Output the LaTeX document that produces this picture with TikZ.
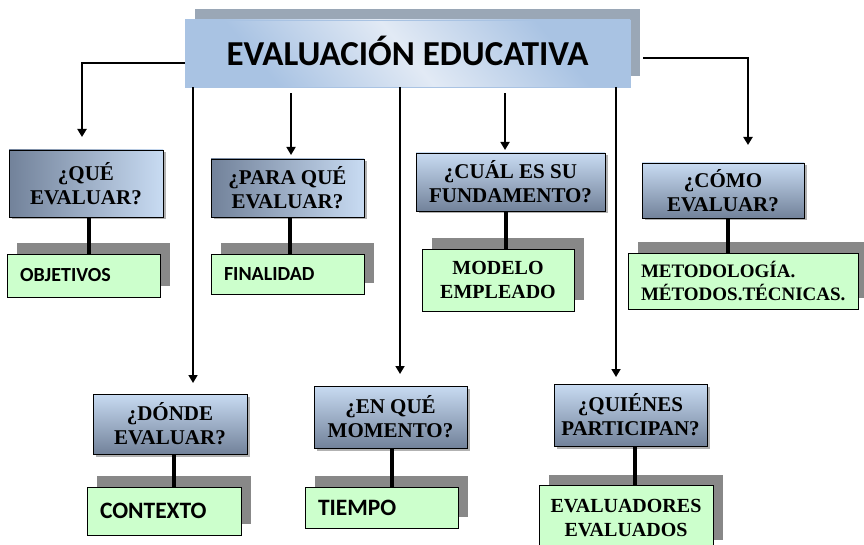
\documentclass[tikz,border=0pt]{standalone}
\usepackage{fontspec}
\setmainfont{Liberation Serif}
\newfontfamily\calfont{Carlito}
\usetikzlibrary{shadows,arrows.meta}
\definecolor{qlight}{HTML}{C8DBF2}
\definecolor{qdark}{HTML}{72829A}
\definecolor{tblue}{HTML}{A9C3E3}
\definecolor{tlight}{HTML}{E2EAF5}
\definecolor{tshadow}{HTML}{9AA7B6}
\definecolor{agreen}{HTML}{CCFFCC}
\definecolor{agray}{HTML}{888888}
\pgfdeclarehorizontalshading{titleshade}{100bp}{color(0bp)=(tblue); color(28bp)=(tblue); color(50bp)=(tlight); color(72bp)=(tblue); color(100bp)=(tblue)}
\tikzset{
  titlebox/.style={draw=tblue, line width=0.6pt, shading=titleshade, shading angle=40,
    minimum width=445pt, minimum height=67pt, inner sep=0pt,
    font=\calfont\bfseries\fontsize{35}{38}\selectfont,
    general shadow={fill=tshadow, shadow xshift=10pt, shadow yshift=11pt}},
  qbox/.style={draw=black, line width=0.8pt, inner sep=0pt, align=center,
    font=\bfseries\fontsize{21}{24}\selectfont,
    drop shadow={shadow xshift=2.5pt, shadow yshift=-2.5pt, opacity=0.3, fill=black}},
  qh/.style={qbox, left color=qdark, right color=qlight},
  qv/.style={qbox, top color=qlight, bottom color=qdark},
  abox/.style={draw=black, line width=0.9pt, fill=agreen, inner ysep=0pt,
    general shadow={fill=agray, shadow xshift=10pt, shadow yshift=11pt}},
  aleft/.style={abox, align=left, inner xsep=13pt, font=\calfont\bfseries\fontsize{20}{22}\selectfont},
  acenter/.style={abox, align=center, inner xsep=0pt, font=\bfseries\fontsize{20}{24}\selectfont},
  mainarrow/.style={line width=1.7pt, -{Triangle[width=9pt,length=8pt]}},
  branch/.style={line width=2.6pt, -{Triangle[width=9pt,length=8pt]}},
  link/.style={line width=3.2pt},
}
\begin{document}
\begin{tikzpicture}[x=1pt,y=-1pt]
\useasboundingbox[fill=white] (0,0) rectangle (864,545);

% title
\node[titlebox] (title) at (407.5,53.5) {\raisebox{5pt}{EVALUACIÓN EDUCATIVA}};

% question boxes
\node[qh, minimum width=154pt, minimum height=67pt] (q1) at (86,183.5) {¿QUÉ\\EVALUAR?};
\node[qh, minimum width=153pt, minimum height=58pt] (q2) at (287.5,188) {¿PARA QUÉ\\EVALUAR?};
\node[qv, minimum width=189pt, minimum height=58pt] (q3) at (510.5,182) {¿CUÁL ES SU\\FUNDAMENTO?};
\node[qv, minimum width=162pt, minimum height=55pt] (q4) at (723,190.5) {¿CÓMO\\EVALUAR?};
\node[qv, minimum width=154pt, minimum height=60pt] (q5) at (170,424) {¿DÓNDE\\EVALUAR?};
\node[qv, minimum width=153pt, minimum height=62pt] (q6) at (390.5,417) {¿EN QUÉ\\MOMENTO?};
\node[qv, minimum width=153pt, minimum height=62pt] (q7) at (630.5,415) {¿QUIÉNES\\PARTICIPAN?};

% answer boxes
\node[aleft, text width=127pt, minimum height=43pt] (a1) at (83.5,275.5) {OBJETIVOS};
\node[aleft, text width=127pt, minimum height=40pt] (a2) at (287.5,274) {FINALIDAD};
\node[acenter, text width=152pt, minimum height=62pt] (a3) at (498,280) {MODELO\\EMPLEADO};
\node[abox, align=left, inner xsep=13pt, text width=204pt, minimum height=56pt,
  font=\bfseries\fontsize{19}{23}\selectfont] (a4) at (743,281) {METODOLOGÍA.\\MÉTODOS.TÉCNICAS.};
\node[aleft, text width=128pt, minimum height=48pt, font=\calfont\bfseries\fontsize{23.5}{26}\selectfont] (a5) at (164,511) {CONTEXTO};
\node[aleft, text width=127pt, minimum height=41pt, font=\calfont\bfseries\fontsize{23.5}{26}\selectfont] (a6) at (381.5,507.5) {TIEMPO};
\node[acenter, text width=174pt, minimum height=65pt, font=\bfseries\fontsize{20}{24}\selectfont] (a7) at (626,518) {EVALUADORES\\EVALUADOS\\[10pt]};

% arrow end points
\coordinate (e1) at (82,137);
\coordinate (e2) at (291,155);
\coordinate (e3) at (505,150);
\coordinate (e4) at (748,145);
\coordinate (e5) at (193,383);
\coordinate (e6) at (400,374);
\coordinate (e7) at (616,377);

% connectors from title
\draw[branch] ([yshift=-9.5pt]title.west) -| (e1);
\draw[branch] ([xshift=13pt,yshift=-4.5pt]title.east) -| (e4);
\draw[mainarrow] (title.south west -| e5) -- (e5);
\draw[mainarrow] ([yshift=-6pt]title.south west -| e2) -- (e2);
\draw[mainarrow] (title.south west -| e6) -- (e6);
\draw[mainarrow] ([yshift=-6pt]title.south west -| e3) -- (e3);
\draw[mainarrow] (title.south west -| e7) -- (e7);

% question -> answer links
\draw[link] ([xshift=3pt]q1.south) -- ([xshift=3pt]q1.south |- a1.north);
\draw[link] ([xshift=2.5pt]q2.south) -- ([xshift=2.5pt]q2.south |- a2.north);
\draw[link] ([xshift=-4.5pt]q3.south) -- ([xshift=-4.5pt]q3.south |- a3.north);
\draw[link] ([xshift=5pt]q4.south) -- ([xshift=5pt]q4.south |- a4.north);
\draw[link] ([xshift=4pt]q5.south) -- ([xshift=4pt]q5.south |- a5.north);
\draw[link] ([xshift=1.5pt]q6.south) -- ([xshift=1.5pt]q6.south |- a6.north);
\draw[link] ([xshift=4.5pt]q7.south) -- ([xshift=4.5pt]q7.south |- a7.north);
\end{tikzpicture}
\end{document}
